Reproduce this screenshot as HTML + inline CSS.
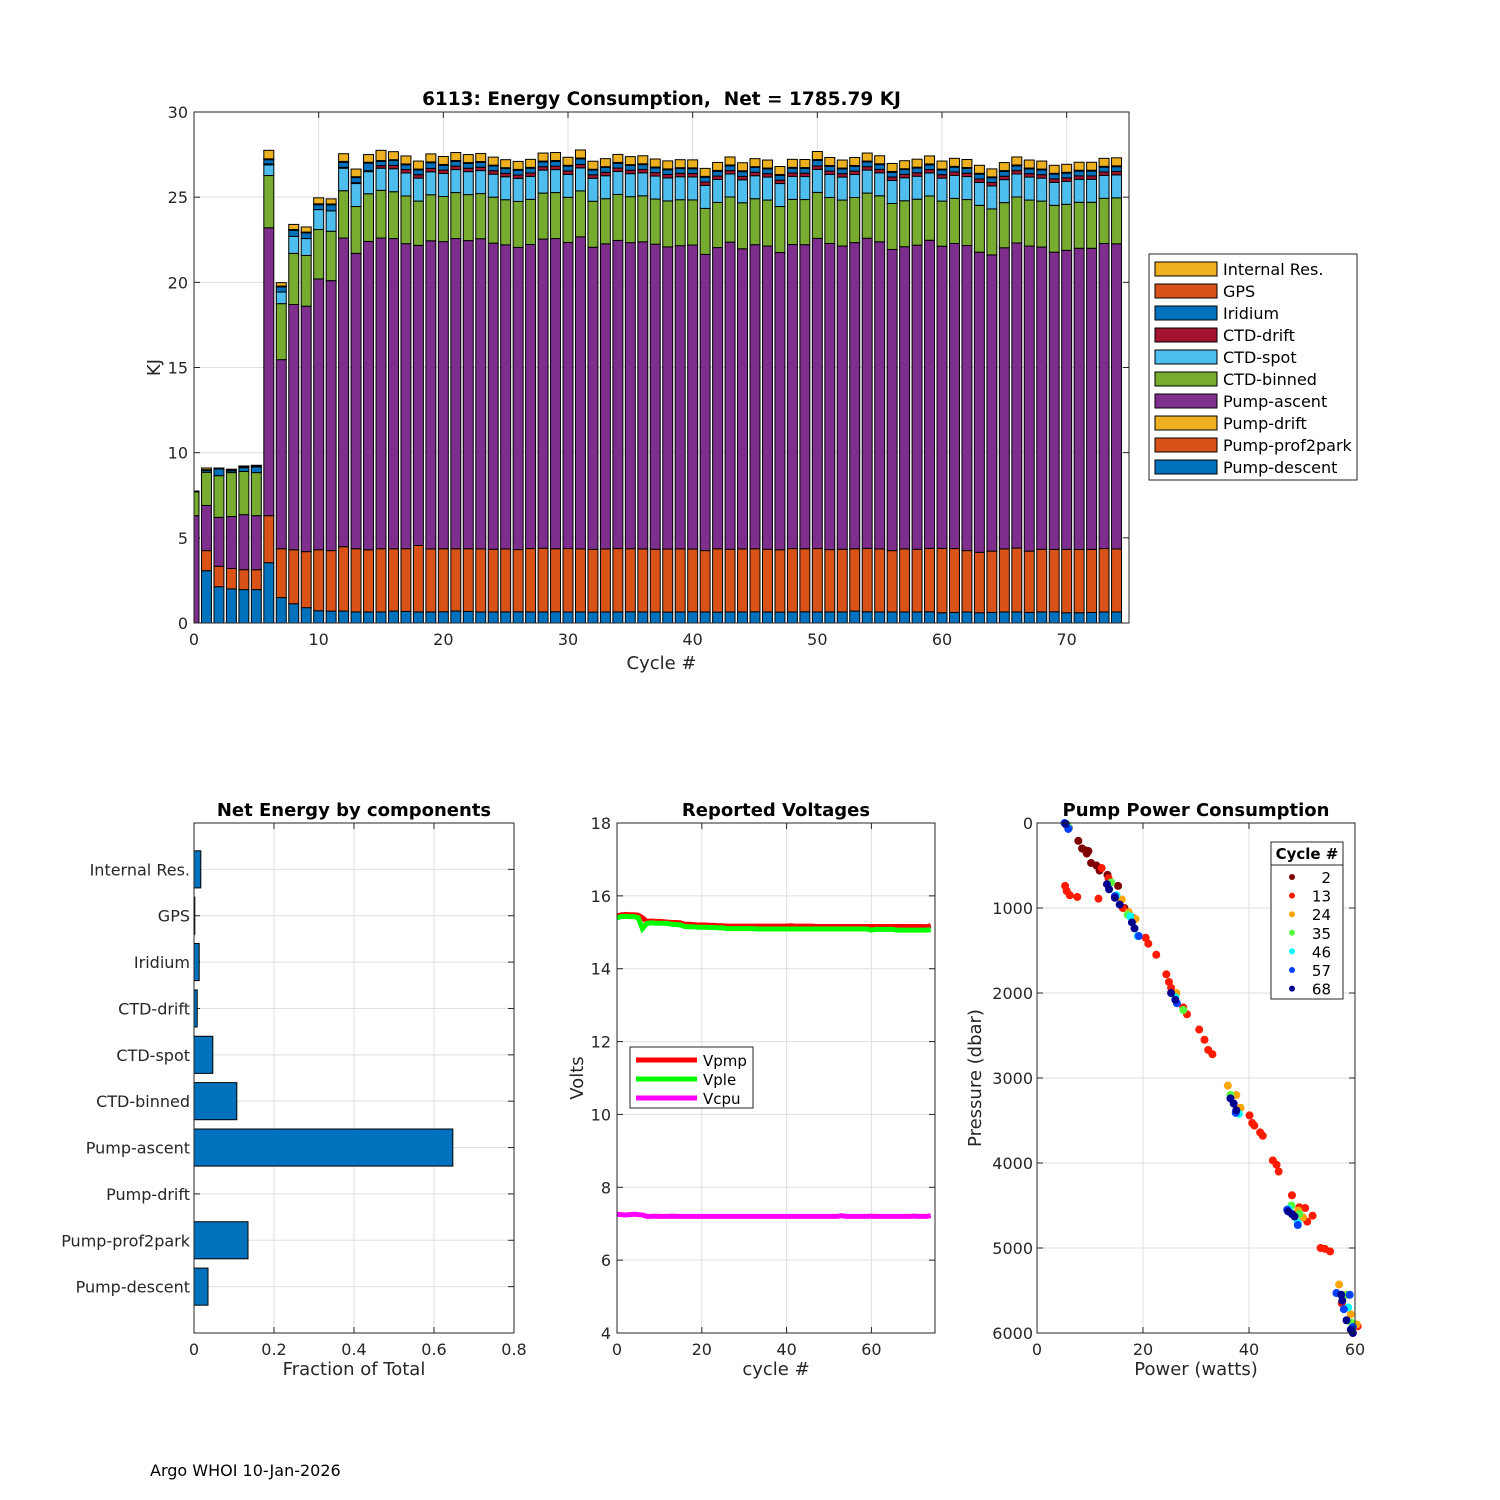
<!DOCTYPE html>
<html><head><meta charset="utf-8"><style>
body{margin:0;background:#fff;}
svg{display:block;font-family:"DejaVu Sans","Liberation Sans",sans-serif;}
</style></head><body>
<svg id="fig" width="1500" height="1500" viewBox="0 0 1500 1500" xmlns="http://www.w3.org/2000/svg">
<rect width="1500" height="1500" fill="#fff"/>
<text x="150" y="1476" font-size="16" fill="#000">Argo WHOI 10-Jan-2026</text>
</svg>
<script>
// ===== Energy consumption data (KJ per cycle) =====
const cycles = [];
for (let i = 0; i < 75; i++) cycles.push(i);
const componentNames = ["Pump-descent","Pump-prof2park","Pump-drift","Pump-ascent","CTD-binned","CTD-spot","CTD-drift","Iridium","GPS","Internal Res."];
const componentColors = ["#0072BD","#D95319","#EDB120","#7E2F8E","#77AC30","#4DBEEE","#A2142F","#0072BD","#D95319","#EDB120"];
const pumpDescent = [0,3.07,2.13,2.0,1.96,1.96,3.54,1.49,1.13,0.9,0.72,0.7,0.7,0.65,0.65,0.65,
0.7,0.68,0.65,0.65,0.66,0.7,0.68,0.65,0.65,0.65,0.66,0.65,0.65,0.66,0.65,0.65,0.64,0.65,0.65,0.66,0.65,0.65,0.64,0.65,0.66,0.65,0.64,0.65,0.65,0.66,0.65,0.64,0.65,0.66,0.65,0.65,0.65,0.7,0.66,0.65,0.65,0.65,0.65,0.66,0.6,0.62,0.65,0.6,0.62,0.65,0.65,0.62,0.65,0.66,0.6,0.6,0.62,0.65,0.65];
const pumpProf2park = [0,1.18,1.2,1.2,1.17,1.17,2.76,2.87,3.17,3.29,3.58,3.55,3.78,3.71,3.65,3.71,
3.66,3.68,3.9,3.7,3.7,3.66,3.68,3.7,3.68,3.7,3.65,3.72,3.74,3.7,3.72,3.7,3.68,3.7,3.72,3.7,3.7,3.68,3.7,3.7,3.68,3.6,3.72,3.68,3.7,3.7,3.68,3.66,3.72,3.7,3.72,3.66,3.68,3.66,3.72,3.7,3.6,3.7,3.68,3.72,3.78,3.75,3.6,3.55,3.6,3.7,3.75,3.6,3.68,3.66,3.72,3.72,3.7,3.72,3.7];
const pumpDrift = [0,0,0,0,0,0,0,0,0,0,0,0,0,0,0,0,0,0,0,0,0,0,0,0,0,0,0,0,0,0,0,0,0,0,0,0,0,0,0,0,0,0,0,0,0,0,0,0,0,0,0,0,0,0,0,0,0,0,0,0,0,0,0,0,0,0,0,0,0,0,0,0,0,0,0];
const pumpAscent = [6.3,2.65,2.87,3.05,3.23,3.17,16.9,11.1,14.4,14.41,15.9,15.85,18.12,17.34,18.1,18.24,
18.21,17.91,17.62,18.09,18.03,18.21,18.09,18.21,17.97,17.85,17.74,17.85,18.15,18.21,17.97,18.32,17.74,17.91,18.09,17.97,18.03,17.91,17.74,17.8,17.85,17.39,17.68,18.03,17.62,17.85,17.8,17.45,17.85,17.85,18.21,17.97,17.8,17.97,18.21,18.03,17.68,17.74,17.85,18.09,17.74,17.91,17.91,17.62,17.39,17.68,17.91,17.91,17.74,17.45,17.56,17.68,17.68,17.91,17.91];
const ctdBinned = [1.4,1.95,2.45,2.58,2.54,2.53,3.07,3.29,3.0,2.98,2.9,2.9,2.78,2.75,2.8,2.8,
2.75,2.8,2.6,2.7,2.65,2.7,2.7,2.65,2.7,2.65,2.7,2.65,2.7,2.7,2.65,2.7,2.7,2.65,2.7,2.7,2.7,2.65,2.7,2.7,2.65,2.7,2.65,2.65,2.7,2.7,2.7,2.7,2.65,2.65,2.7,2.7,2.7,2.65,2.65,2.7,2.7,2.7,2.7,2.6,2.65,2.65,2.7,2.75,2.7,2.65,2.7,2.7,2.7,2.75,2.7,2.7,2.7,2.65,2.7];
const ctdSpot = [0,0,0,0,0,0,0.63,0.68,1.0,0.99,1.17,1.2,1.32,1.35,1.3,1.3,
1.35,1.35,1.35,1.35,1.35,1.35,1.35,1.35,1.35,1.35,1.35,1.35,1.35,1.35,1.35,1.35,1.35,1.35,1.35,1.35,1.35,1.35,1.35,1.35,1.35,1.35,1.35,1.35,1.35,1.35,1.35,1.35,1.35,1.35,1.35,1.35,1.35,1.35,1.35,1.35,1.35,1.35,1.35,1.35,1.35,1.35,1.35,1.35,1.35,1.35,1.35,1.35,1.35,1.35,1.35,1.35,1.35,1.35,1.35];
const ctdDrift = [0,0,0,0,0,0,0.05,0,0,0,0,0,0.05,0.05,0.05,0.15,
0.2,0.2,0.2,0.2,0.2,0.2,0.2,0.2,0.2,0.2,0.2,0.2,0.2,0.2,0.2,0.2,0.2,0.2,0.2,0.2,0.2,0.2,0.2,0.2,0.2,0.2,0.2,0.2,0.2,0.2,0.2,0.2,0.2,0.2,0.2,0.2,0.2,0.2,0.2,0.2,0.2,0.2,0.2,0.2,0.2,0.2,0.2,0.2,0.2,0.2,0.2,0.2,0.2,0.2,0.2,0.2,0.2,0.2,0.2];
const iridium = [0.05,0.1,0.4,0.1,0.22,0.33,0.25,0.3,0.35,0.33,0.29,0.35,0.3,0.3,0.45,0.25,
0.28,0.28,0.28,0.33,0.28,0.28,0.28,0.28,0.28,0.28,0.28,0.28,0.28,0.28,0.28,0.33,0.28,0.28,0.28,0.28,0.28,0.28,0.28,0.28,0.28,0.28,0.28,0.28,0.28,0.28,0.28,0.28,0.28,0.28,0.33,0.28,0.28,0.28,0.28,0.28,0.28,0.28,0.28,0.28,0.28,0.28,0.28,0.28,0.28,0.28,0.28,0.28,0.28,0.28,0.28,0.28,0.28,0.28,0.28];
const gps = [0,0.05,0.05,0.05,0.05,0.05,0.05,0.05,0.05,0.05,0.05,0.05,0.05,0.05,0.05,0.05,
0.05,0.05,0.05,0.05,0.05,0.05,0.05,0.05,0.05,0.05,0.05,0.05,0.05,0.05,0.05,0.05,0.05,0.05,0.05,0.05,0.05,0.05,0.05,0.05,0.05,0.05,0.05,0.05,0.05,0.05,0.05,0.05,0.05,0.05,0.05,0.05,0.05,0.05,0.05,0.05,0.05,0.05,0.05,0.05,0.05,0.05,0.05,0.05,0.05,0.05,0.05,0.05,0.05,0.05,0.05,0.05,0.05,0.05,0.05];
const internalRes = [0,0.1,0,0.05,0.05,0.05,0.5,0.2,0.3,0.3,0.35,0.3,0.45,0.45,0.45,0.6,
0.47,0.47,0.47,0.47,0.47,0.47,0.47,0.47,0.47,0.47,0.47,0.47,0.47,0.47,0.47,0.47,0.47,0.47,0.47,0.47,0.47,0.47,0.47,0.47,0.47,0.47,0.47,0.47,0.47,0.47,0.47,0.47,0.47,0.47,0.47,0.47,0.47,0.47,0.47,0.47,0.47,0.47,0.47,0.47,0.47,0.47,0.47,0.47,0.47,0.47,0.47,0.47,0.47,0.47,0.47,0.47,0.47,0.47,0.47];
const mainYTicks = [0,5,10,15,20,25,30];
const mainXTicks = [0,10,20,30,40,50,60,70];

// ===== Net energy fraction =====
const fracCategories = ["Internal Res.","GPS","Iridium","CTD-drift","CTD-spot","CTD-binned","Pump-ascent","Pump-drift","Pump-prof2park","Pump-descent"];
const fracValues = [0.017,0.002,0.013,0.008,0.047,0.107,0.647,0,0.135,0.035];
const fracXTicks = [0,0.2,0.4,0.6,0.8];

// ===== Voltages =====
const vpmp = [15.45,15.48,15.49,15.48,15.48,15.47,15.4,15.3,15.31,15.3,15.3,15.29,15.28,15.27,15.27,15.26,15.22,15.22,15.21,15.2,15.2,15.2,15.19,15.19,15.18,15.18,15.17,15.17,15.17,15.17,15.17,15.17,15.17,15.17,15.17,15.17,15.17,15.17,15.17,15.17,15.17,15.18,15.17,15.17,15.17,15.17,15.17,15.16,15.16,15.16,15.16,15.16,15.16,15.16,15.16,15.16,15.16,15.16,15.16,15.16,15.16,15.16,15.16,15.16,15.16,15.16,15.16,15.16,15.16,15.16,15.16,15.16,15.16,15.15,15.18];
const vple = [15.4,15.43,15.44,15.43,15.43,15.4,15.1,15.24,15.26,15.25,15.25,15.25,15.24,15.22,15.21,15.2,15.16,15.15,15.15,15.14,15.14,15.14,15.13,15.13,15.12,15.12,15.1,15.1,15.1,15.1,15.1,15.1,15.1,15.09,15.09,15.09,15.09,15.09,15.09,15.09,15.09,15.09,15.09,15.09,15.09,15.09,15.09,15.09,15.09,15.09,15.09,15.09,15.09,15.09,15.09,15.09,15.09,15.09,15.09,15.09,15.06,15.08,15.08,15.08,15.08,15.08,15.06,15.06,15.06,15.06,15.06,15.06,15.06,15.06,15.07];
const vcpu = [7.26,7.25,7.24,7.25,7.26,7.25,7.24,7.2,7.2,7.21,7.2,7.2,7.2,7.21,7.2,7.2,7.2,7.2,7.2,7.2,7.2,7.2,7.2,7.2,7.2,7.2,7.2,7.2,7.2,7.2,7.2,7.2,7.2,7.2,7.2,7.2,7.2,7.2,7.2,7.2,7.2,7.2,7.2,7.2,7.2,7.2,7.2,7.2,7.2,7.2,7.2,7.2,7.2,7.22,7.2,7.2,7.2,7.2,7.2,7.2,7.21,7.2,7.2,7.2,7.2,7.2,7.2,7.2,7.2,7.2,7.21,7.2,7.2,7.2,7.22];
const voltYTicks = [4,6,8,10,12,14,16,18];
const voltXTicks = [0,20,40,60];

// ===== Pump power scatter =====
const scatterCycles = [2,13,24,35,46,57,68];
const scatterColors = ["#7f0000","#ff1a00","#ffa500","#55ff40","#00ffff","#0040ff","#00008f"];
const powerC2 = [5.5,6,7.8,8.5,9.1,9.4,9.7,10.2,11.2,11.8,13.3,15.3,16.5,17.4,18.2];
const presC2 = [20,60,210,300,320,360,330,470,500,560,610,740,1000,1080,1120];
const powerC13 = [5.3,5.6,6.2,7.6,11.6,12.2,13.5,16.2,20.5,21,22.5,24.4,24.9,25.3,27.6,28.3,30.6,31.6,32.3,33.1,40.1,40.6,41,42.1,42.6,44.5,45.2,45.6,48.1,49.5,50.6,52,51,53.5,54.3,55.3,57.5,60.5];
const presC13 = [740,800,850,870,890,530,650,1000,1350,1420,1550,1780,1870,1940,2170,2250,2430,2550,2670,2720,3440,3530,3560,3640,3680,3970,4020,4100,4380,4520,4530,4620,4690,5000,5010,5040,5650,5920];
const powerC24 = [16,17.3,18.6,26.3,36,37.6,38.4,49.3,50.2,57,58.3,59.2,60.3];
const presC24 = [900,1050,1130,2000,3090,3200,3350,4560,4640,5430,5550,5780,5900];
const powerC35 = [5.7,14,17.1,27.6,36.5,48,49.5,58.5,59.4];
const presC35 = [20,700,1080,2200,3200,4500,4600,5550,5880];
const powerC46 = [5.9,15,17.6,19,26.1,38.1,47.5,49.2,58.7];
const presC46 = [60,850,1100,1330,2050,3420,4540,4700,5700];
const powerC57 = [5.2,5.9,14.7,19.2,26.4,37.5,47.2,49.2,56.5,57.9,59,59.6];
const presC57 = [0,70,860,1330,2120,3410,4550,4730,5530,5720,5550,5930];
const powerC68 = [5.4,13.2,13.6,14.7,15.6,17.9,18.4,25.3,26.1,36.5,37.1,37.6,47.4,48.1,48.6,57.4,57.6,58.4,59.6,59.2];
const presC68 = [10,720,780,880,960,1170,1240,2000,2080,3240,3300,3380,4570,4600,4630,5550,5620,5850,6000,5960];
const powerSeries = [powerC2,powerC13,powerC24,powerC35,powerC46,powerC57,powerC68];
const presSeries = [presC2,presC13,presC24,presC35,presC46,presC57,presC68];
const pumpXTicks = [0,20,40,60];
const pumpYTicks = [0,1000,2000,3000,4000,5000,6000];

const NS = "http://www.w3.org/2000/svg";
const svg = document.getElementById("fig");
function mk(tag, attrs, parent) {
  const e = document.createElementNS(NS, tag);
  for (const k in attrs) e.setAttribute(k, attrs[k]);
  (parent || svg).appendChild(e);
  return e;
}
function txt(str, attrs, parent) {
  const e = mk("text", attrs, parent);
  e.textContent = str;
  return e;
}
function lin(d0, d1, r0, r1) { return v => r0 + (v - d0) / (d1 - d0) * (r1 - r0); }
function axesFrame(name) {
  const g = mk("g", {});
  
  
  return g;
}

// ===== MAIN CHART =====
(function(){
  const L=194,T=112,R=1129,B=623;
  const x = lin(0,75,L,R), y = lin(0,30,B,T);
  const g = axesFrame('energy-chart');
  mainXTicks.forEach(t=>{
    const gl = mk("line",{x1:x(t),x2:x(t),y1:T,y2:B,stroke:"#dfdfdf","stroke-width":1},g);
    
    
    const lb = txt(t,{x:x(t),y:B+22,"font-size":16,"text-anchor":"middle",fill:"#262626"},g);
    
    
    mk("line",{x1:x(t),x2:x(t),y1:B,y2:B-6,stroke:"#262626"},g);
    mk("line",{x1:x(t),x2:x(t),y1:T,y2:T+6,stroke:"#262626"},g);
  });
  mainYTicks.forEach(t=>{
    const gl = mk("line",{x1:L,x2:R,y1:y(t),y2:y(t),stroke:"#dfdfdf","stroke-width":1},g);
    
    
    const lb = txt(t,{x:L-6,y:y(t)+6,"font-size":16,"text-anchor":"end",fill:"#262626"},g);
    
    
    mk("line",{x1:L,x2:L+6,y1:y(t),y2:y(t),stroke:"#262626"},g);
    mk("line",{x1:R,x2:R-6,y1:y(t),y2:y(t),stroke:"#262626"},g);
  });
  const series = [pumpDescent,pumpProf2park,pumpDrift,pumpAscent,ctdBinned,ctdSpot,ctdDrift,iridium,gps,internalRes];
  const clip = mk("clipPath",{id:"mainclip"},g);
  mk("rect",{x:L,y:T,width:R-L,height:B-T},clip);
  const bars = mk("g",{"clip-path":"url(#mainclip)"},g);
  const bw = 0.8;
  cycles.forEach((c,i)=>{
    let acc = 0;
    series.forEach((s,k)=>{
      const v = s[i];
      if (v<=0) return;
      const r = mk("rect",{x:x(c-bw/2),y:y(acc+v),width:x(c+bw/2)-x(c-bw/2),height:y(acc)-y(acc+v),fill:componentColors[k],stroke:"#000","stroke-width":1},bars);
      
      
      acc += v;
    });
  });
  mk("rect",{x:L,y:T,width:R-L,height:B-T,fill:"none",stroke:"#262626","stroke-width":1},g);
  const tt = txt("6113: Energy Consumption,  Net = 1785.79 KJ",{x:(L+R)/2,y:T-7,"font-size":18.5,"font-weight":"bold","text-anchor":"middle",fill:"#000",style:"white-space:pre"},g);
  
  
  const xl = txt("Cycle #",{x:(L+R)/2,y:B+46,"font-size":18,"text-anchor":"middle",fill:"#262626"},g);
  
  
  const yl = txt("KJ",{x:0,y:0,"font-size":18,"text-anchor":"middle",fill:"#262626",transform:`translate(${L-34},${(T+B)/2}) rotate(-90)`},g);
  
  
  const lg = mk("g",{},g);
  
  
  mk("rect",{x:1149,y:254,width:208,height:226,fill:"#fff",stroke:"#262626"},lg);
  for (let k=9;k>=0;k--){
    const row = 9-k, yy = 269 + row*22;
    const sw = mk("rect",{x:1155,y:yy-7,width:62,height:14,fill:componentColors[k],stroke:"#000"},lg);
    
    
    const lt = txt(componentNames[k],{x:1223,y:yy+6,"font-size":16,fill:"#000"},lg);
    
    
  }
})();

// ===== FRACTION CHART =====
(function(){
  const L=194,T=823,R=514,B=1333;
  const x = lin(0,0.8,L,R), y = lin(0,11,T,B);
  const g = axesFrame('fraction-chart');
  fracXTicks.forEach(t=>{
    mk("line",{x1:x(t),x2:x(t),y1:T,y2:B,stroke:"#dfdfdf"},g);
    mk("line",{x1:x(t),x2:x(t),y1:B,y2:B-6,stroke:"#262626"},g);
    mk("line",{x1:x(t),x2:x(t),y1:T,y2:T+6,stroke:"#262626"},g);
    const lb = txt(t,{x:x(t),y:B+22,"font-size":16,"text-anchor":"middle",fill:"#262626"},g);
    
    
  });
  fracCategories.forEach((c,i)=>{
    const yy = y(i+1);
    mk("line",{x1:L,x2:R,y1:yy,y2:yy,stroke:"#dfdfdf"},g);
    mk("line",{x1:L,x2:L+6,y1:yy,y2:yy,stroke:"#262626"},g);
    mk("line",{x1:R,x2:R-6,y1:yy,y2:yy,stroke:"#262626"},g);
    const lb = txt(c,{x:L-4,y:yy+6,"font-size":16,"text-anchor":"end",fill:"#262626"},g);
    
    
  });
  fracCategories.forEach((c,i)=>{
    const v = fracValues[i]; if (v<=0) return;
    const h = y(1.8)-y(1);
    const r = mk("rect",{x:x(0),y:y(i+1)-h/2,width:x(v)-x(0),height:h,fill:"#0072BD",stroke:"#000"},g);
    
    
  });
  mk("rect",{x:L,y:T,width:R-L,height:B-T,fill:"none",stroke:"#262626"},g);
  const tt = txt("Net Energy by components",{x:(L+R)/2,y:T-7,"font-size":18,"font-weight":"bold","text-anchor":"middle",fill:"#000"},g);
  
  
  const xl = txt("Fraction of Total",{x:(L+R)/2,y:B+42,"font-size":18,"text-anchor":"middle",fill:"#262626"},g);
  
  
})();

// ===== VOLTAGE CHART =====
(function(){
  const L=617,T=823,R=935,B=1333;
  const x = lin(0,75,L,R), y = lin(4,18,B,T);
  const g = axesFrame('voltage-chart');
  voltXTicks.forEach(t=>{
    mk("line",{x1:x(t),x2:x(t),y1:T,y2:B,stroke:"#dfdfdf"},g);
    mk("line",{x1:x(t),x2:x(t),y1:B,y2:B-6,stroke:"#262626"},g);
    mk("line",{x1:x(t),x2:x(t),y1:T,y2:T+6,stroke:"#262626"},g);
    const lb = txt(t,{x:x(t),y:B+22,"font-size":16,"text-anchor":"middle",fill:"#262626"},g);
    
    
  });
  voltYTicks.forEach(t=>{
    mk("line",{x1:L,x2:R,y1:y(t),y2:y(t),stroke:"#dfdfdf"},g);
    mk("line",{x1:L,x2:L+6,y1:y(t),y2:y(t),stroke:"#262626"},g);
    mk("line",{x1:R,x2:R-6,y1:y(t),y2:y(t),stroke:"#262626"},g);
    const lb = txt(t,{x:L-6,y:y(t)+6,"font-size":16,"text-anchor":"end",fill:"#262626"},g);
    
    
  });
  const sets = [[vpmp,"#ff0000","vpmp-line"],[vple,"#00ff00","vple-line"],[vcpu,"#ff00ff","vcpu-line"]];
  sets.forEach(([arr,col,nm])=>{
    const pts = arr.map((v,i)=>x(cycles[i]).toFixed(1)+","+y(v).toFixed(1)).join(" ");
    const p = mk("polyline",{points:pts,fill:"none",stroke:col,"stroke-width":5},g);
    
    
  });
  mk("rect",{x:L,y:T,width:R-L,height:B-T,fill:"none",stroke:"#262626"},g);
  const lg = mk("g",{},g);
  
  
  mk("rect",{x:630,y:1047,width:123,height:61,fill:"#fff",stroke:"#262626"},lg);
  [["Vpmp","#ff0000"],["Vple","#00ff00"],["Vcpu","#ff00ff"]].forEach(([n,c],i)=>{
    const yy = 1060+i*19;
    mk("line",{x1:636,x2:697,y1:yy,y2:yy,stroke:c,"stroke-width":5},lg);
    const lt = txt(n,{x:703,y:yy+6,"font-size":15,fill:"#000"},lg);
    
    
  });
  const tt = txt("Reported Voltages",{x:(L+R)/2,y:T-7,"font-size":18,"font-weight":"bold","text-anchor":"middle",fill:"#000"},g);
  
  
  const xl = txt("cycle #",{x:(L+R)/2,y:B+42,"font-size":18,"text-anchor":"middle",fill:"#262626"},g);
  
  
  const yl = txt("Volts",{x:0,y:0,"font-size":18,"text-anchor":"middle",fill:"#262626",transform:`translate(${L-34},${(T+B)/2}) rotate(-90)`},g);
  
  
})();

// ===== PUMP POWER CHART =====
(function(){
  const L=1037,T=823,R=1355,B=1333;
  const x = lin(0,60,L,R), y = lin(0,6000,T,B);
  const g = axesFrame('pump-power-chart');
  pumpXTicks.forEach(t=>{
    mk("line",{x1:x(t),x2:x(t),y1:T,y2:B,stroke:"#dfdfdf"},g);
    mk("line",{x1:x(t),x2:x(t),y1:B,y2:B-6,stroke:"#262626"},g);
    mk("line",{x1:x(t),x2:x(t),y1:T,y2:T+6,stroke:"#262626"},g);
    const lb = txt(t,{x:x(t),y:B+22,"font-size":16,"text-anchor":"middle",fill:"#262626"},g);
    
    
  });
  pumpYTicks.forEach(t=>{
    mk("line",{x1:L,x2:R,y1:y(t),y2:y(t),stroke:"#dfdfdf"},g);
    mk("line",{x1:L,x2:L+6,y1:y(t),y2:y(t),stroke:"#262626"},g);
    mk("line",{x1:R,x2:R-6,y1:y(t),y2:y(t),stroke:"#262626"},g);
    const lb = txt(t,{x:L-4,y:y(t)+6,"font-size":16,"text-anchor":"end",fill:"#262626"},g);
    
    
  });
  scatterCycles.forEach((c,k)=>{
    const pw = powerSeries[k], pr = presSeries[k];
    pw.forEach((v,i)=>{
      const d = mk("circle",{cx:x(v),cy:y(pr[i]),r:4,fill:scatterColors[k]},g);
      
      
    });
  });
  mk("rect",{x:L,y:T,width:R-L,height:B-T,fill:"none",stroke:"#262626"},g);
  const lg = mk("g",{},g);
  
  
  mk("rect",{x:1271,y:842,width:72,height:157,fill:"#fff",stroke:"#262626"},lg);
  mk("line",{x1:1271,x2:1343,y1:865,y2:865,stroke:"#262626"},lg);
  const lt0 = txt("Cycle #",{x:1307,y:859,"font-size":15,"font-weight":"bold","text-anchor":"middle",fill:"#000"},lg);
  
  
  scatterCycles.forEach((c,k)=>{
    const yy = 877 + k*18.6;
    mk("circle",{cx:1292,cy:yy,r:3,fill:scatterColors[k]},lg);
    const lt = txt(c,{x:1331,y:yy+6,"font-size":15,"text-anchor":"end",fill:"#000"},lg);
    
    
  });
  const tt = txt("Pump Power Consumption",{x:(L+R)/2,y:T-7,"font-size":18,"font-weight":"bold","text-anchor":"middle",fill:"#000"},g);
  
  
  const xl = txt("Power (watts)",{x:(L+R)/2,y:B+42,"font-size":18,"text-anchor":"middle",fill:"#262626"},g);
  
  
  const yl = txt("Pressure (dbar)",{x:0,y:0,"font-size":18,"text-anchor":"middle",fill:"#262626",transform:`translate(${L-56},${(T+B)/2}) rotate(-90)`},g);
  
  
})();
</script>
</body></html>
